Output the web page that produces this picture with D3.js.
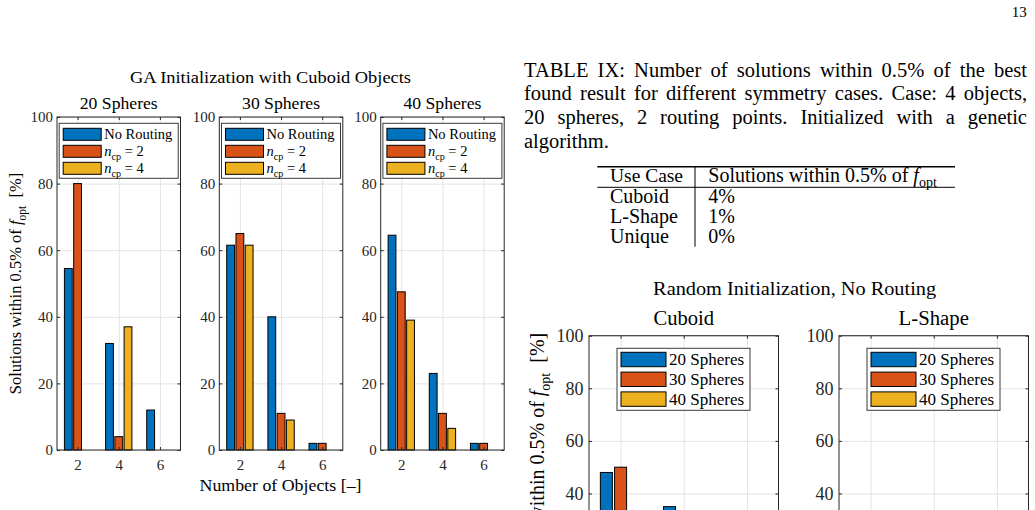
<!DOCTYPE html>
<html>
<head>
<meta charset="utf-8">
<script src="https://cdn.jsdelivr.net/npm/d3@7"></script>
<style>
  body { margin: 0; background: #fff; }
  text { white-space: pre; }
</style>
</head>
<body>
<script>
// ---- data ----
var objects = [2, 4, 6];
var gaTitles = ["20 Spheres", "30 Spheres", "40 Spheres"];
// per panel: No Routing, n_cp = 2, n_cp = 4
var ga20NoRouting = [54.5, 32, 12];
var ga20Ncp2      = [80, 4, 0];
var ga20Ncp4      = [0, 37, 0];
var ga30NoRouting = [61.5, 40, 2];
var ga30Ncp2      = [65, 11, 2];
var ga30Ncp4      = [61.5, 9, 0];
var ga40NoRouting = [64.5, 23, 2];
var ga40Ncp2      = [47.5, 11, 2];
var ga40Ncp4      = [39, 6.5, 0];

var randTitles = ["Cuboid", "L-Shape"];
var randLegend = ["20 Spheres", "30 Spheres", "40 Spheres"];
// null = bar lies below the visible part of the page
var randCuboid20 = [48, 35, null];
var randCuboid30 = [50, null, null];
var randCuboid40 = [null, null, null];
var randLShape20 = [null, null, null];
var randLShape30 = [null, null, null];
var randLShape40 = [null, null, null];

var yTicks = [0, 20, 40, 60, 80, 100];

var captionLines = [
  "TABLE IX: Number of solutions within 0.5% of the best",
  "found result for different symmetry cases. Case: 4 objects,",
  "20 spheres, 2 routing points. Initialized with a genetic",
  "algorithm."
];
var useCases = ["Cuboid", "L-Shape", "Unique"];
var useShares = ["4%", "1%", "0%"];

var colors = ["#0072BD", "#D95319", "#EDB120"];
var FONT = "'Liberation Serif', 'Times New Roman', serif";
var INK = "#262626";
var PAGE_H = 510;

var svg = d3.select("body").append("svg")
  .attr("width", 1035).attr("height", PAGE_H)
  .style("font-family", FONT);

svg.append("rect").attr("width", 1035).attr("height", PAGE_H).attr("fill", "#fff");

// text with italic symbol + subscript
function rich(sel, parts, size) {
  parts.forEach(function (p, i) {
    var t = sel.append("tspan").text(p.t);
    if (p.i) t.attr("font-style", "italic");
    if (p.sub) t.attr("font-size", size * 0.7).attr("dy", size * 0.28);
    else if (i > 0 && parts[i - 1].sub) t.attr("dy", -size * 0.28);
  });
}

function plain(x, y, str, size, anchor, len) {
  var t = svg.append("text")
    .attr("x", x).attr("y", y)
    .attr("font-size", size)
    .attr("fill", "#000")
    .attr("text-anchor", anchor || "start")
    .text(str);
  if (len) t.attr("textLength", len).attr("lengthAdjust", "spacingAndGlyphs");
  return t;
}

function panel(o) {
  var x = d3.scaleLinear().domain([1, 7]).range([o.left, o.left + o.width]);
  var y = d3.scaleLinear().domain([0, 100]).range([o.bottom, o.top]);
  var g = svg.append("g");

  // grid
  g.append("g").attr("transform", "translate(" + o.left + ",0)")
    .call(d3.axisLeft(y).tickValues(yTicks).tickSize(-o.width).tickFormat(""))
    .call(function (a) { a.select(".domain").remove(); a.selectAll("line").attr("stroke", "#e3e3e3"); });
  g.append("g").attr("transform", "translate(0," + o.bottom + ")")
    .call(d3.axisBottom(x).tickValues(objects).tickSize(-(o.bottom - o.top)).tickFormat(""))
    .call(function (a) { a.select(".domain").remove(); a.selectAll("line").attr("stroke", "#e3e3e3"); });

  // bars
  var offs = [-0.45, 0, 0.45], half = 0.19;
  o.series.forEach(function (vals, s) {
    g.selectAll(null).data(vals.map(function (v, j) { return { v: v, c: objects[j] }; })
        .filter(function (d) { return d.v != null && d.v > 0; }))
      .enter().append("rect")
      .attr("x", function (d) { return x(d.c + offs[s] - half); })
      .attr("width", function (d) { return x(d.c + offs[s] + half) - x(d.c + offs[s] - half); })
      .attr("y", function (d) { return y(d.v); })
      .attr("height", function (d) { return y(0) - y(d.v); })
      .attr("fill", colors[s])
      .attr("stroke", "#000").attr("stroke-width", 1);
  });

  // axes with inward ticks on all sides
  var tl = 3;
  var left = g.append("g").attr("transform", "translate(" + o.left + ",0)")
    .call(d3.axisLeft(y).tickValues(yTicks).tickFormat(d3.format("d"))
      .tickSizeInner(-tl).tickSizeOuter(0).tickPadding(o.ypad));
  var bottom = g.append("g").attr("transform", "translate(0," + o.bottom + ")")
    .call(d3.axisBottom(x).tickValues(objects).tickFormat(d3.format("d"))
      .tickSizeInner(-tl).tickSizeOuter(0).tickPadding(o.xpad));
  g.append("g").attr("transform", "translate(" + (o.left + o.width) + ",0)")
    .call(d3.axisRight(y).tickValues(yTicks).tickSizeInner(-tl).tickSizeOuter(0).tickFormat(""));
  g.append("g").attr("transform", "translate(0," + o.top + ")")
    .call(d3.axisTop(x).tickValues(objects).tickSizeInner(-tl).tickSizeOuter(0).tickFormat(""));
  g.selectAll(".domain").remove();
  g.selectAll(".tick line").filter(function () { return this.getAttribute("stroke") === "currentColor"; })
    .attr("stroke", INK);
  [left, bottom].forEach(function (a) {
    a.selectAll("text").attr("font-family", FONT).attr("font-size", o.tickSize).attr("fill", INK);
  });
  // labels that fall below the page are not printed
  left.selectAll(".tick").filter(function (d) { return y(d) > PAGE_H - 8; }).select("text").remove();
  if (o.bottom > PAGE_H) bottom.selectAll("text").remove();

  g.append("rect")
    .attr("x", o.left).attr("y", o.top)
    .attr("width", o.width).attr("height", o.bottom - o.top)
    .attr("fill", "none").attr("stroke", INK).attr("stroke-width", 1);

  // title
  plain(o.left + o.width / 2, o.titleY, o.title, o.titleSize, "middle", o.titleLen);

  // legend
  var L = o.legend;
  var lg = g.append("g");
  lg.append("rect").attr("x", L.x).attr("y", L.y).attr("width", L.w).attr("height", L.h)
    .attr("fill", "#fff").attr("stroke", "#3a3a3a").attr("stroke-width", 1);
  L.labels.forEach(function (lab, i) {
    var ry = L.y + L.pad + i * L.row;
    lg.append("rect").attr("x", L.x + 4).attr("y", ry).attr("width", L.sw).attr("height", L.sh)
      .attr("fill", colors[i]).attr("stroke", "#000").attr("stroke-width", 1);
    var t = lg.append("text").attr("x", L.x + 4 + L.sw + 3).attr("y", ry + L.sh / 2)
      .attr("dy", "0.35em").attr("font-size", L.size).attr("fill", "#000");
    if (typeof lab === "string") t.text(lab); else rich(t, lab, L.size);
  });
}

// ---- left figure: GA initialization ----
var gaSeries = [
  [ga20NoRouting, ga20Ncp2, ga20Ncp4],
  [ga30NoRouting, ga30Ncp2, ga30Ncp4],
  [ga40NoRouting, ga40Ncp2, ga40Ncp4]
];
var gaLabels = [
  "No Routing",
  [{ t: "n", i: true }, { t: "cp", sub: true }, { t: " = 2" }],
  [{ t: "n", i: true }, { t: "cp", sub: true }, { t: " = 4" }]
];
var gaLefts = [57, 219.3, 380.7];
gaLefts.forEach(function (lx, k) {
  panel({
    left: lx, width: 123.5, top: 117, bottom: 450,
    series: gaSeries[k], title: gaTitles[k], titleY: 109, titleSize: 17, titleLen: 78,
    tickSize: 15, ypad: 4, xpad: 9,
    legend: { x: lx + 2.2, y: 123.3, w: 119, h: 55, pad: 5, row: 17, sw: 38, sh: 12, size: 14.5, labels: gaLabels }
  });
});

plain(270.5, 82.7, "GA Initialization with Cuboid Objects", 17.5, "middle", 281);
plain(280.5, 491, "Number of Objects [\u2013]", 17, "middle", 162);

var yl1 = svg.append("text")
  .attr("transform", "translate(21,283.5) rotate(-90)")
  .attr("text-anchor", "middle").attr("font-size", 16.5).attr("fill", "#000");
rich(yl1, [{ t: "Solutions within 0.5% of " }, { t: "f", i: true }, { t: "opt", sub: true }, { t: "  [%]" }], 16.5);

// ---- caption + table ----
plain(1026.7, 16.7, "13", 15, "end");
var capY = [76.7, 100.4, 124.1, 147.8];
captionLines.forEach(function (line, i) {
  var t = svg.append("text").attr("x", 524).attr("y", capY[i])
    .attr("font-size", 20.5).attr("fill", "#000").text(line);
  if (i < 3) {
    // justify by stretching the word gaps
    var natural = t.node().getComputedTextLength();
    var gaps = line.split(" ").length - 1;
    t.attr("word-spacing", ((503 - natural) / gaps).toFixed(2));
  }
});

svg.append("line").attr("x1", 597.3).attr("x2", 955).attr("y1", 166.7).attr("y2", 166.7)
  .attr("stroke", "#000").attr("stroke-width", 1.6);
svg.append("line").attr("x1", 597.3).attr("x2", 955).attr("y1", 187.3).attr("y2", 187.3)
  .attr("stroke", "#000").attr("stroke-width", 1);
svg.append("line").attr("x1", 695).attr("x2", 695).attr("y1", 166.7).attr("y2", 246.7)
  .attr("stroke", "#000").attr("stroke-width", 1);
plain(610, 181.7, "Use Case", 19.5, "start", 73);
var th = svg.append("text").attr("x", 708.3).attr("y", 181.7).attr("font-size", 20).attr("fill", "#000");
rich(th, [{ t: "Solutions within 0.5% of " }, { t: "f", i: true }, { t: "opt", sub: true }], 20);
useCases.forEach(function (u, i) {
  plain(610, 202.7 + i * 20, u, 20, "start");
  plain(708.3, 202.7 + i * 20, useShares[i], 20, "start");
});

// ---- lower right figure: random initialization ----
var randSeries = [
  [randCuboid20, randCuboid30, randCuboid40],
  [randLShape20, randLShape30, randLShape40]
];
var randLefts = [589, 839];
var randLens = [60.7, 70.3];
randLefts.forEach(function (lx, k) {
  panel({
    left: lx, width: 189.5, top: 335.7, bottom: 598.7,
    series: randSeries[k], title: randTitles[k], titleY: 325, titleSize: 20, titleLen: randLens[k],
    tickSize: 18, ypad: 5.5, xpad: 10,
    legend: { x: lx + 28, y: 348.3, w: 133, h: 62, pad: 4, row: 19.8, sw: 45, sh: 14.4, size: 17, labels: randLegend }
  });
});

plain(794.6, 295, "Random Initialization, No Routing", 19.5, "middle", 283);

var yl2 = svg.append("text")
  .attr("transform", "translate(544,467) rotate(-90)")
  .attr("text-anchor", "middle").attr("font-size", 20).attr("fill", "#000");
rich(yl2, [{ t: "Solutions within 0.5% of " }, { t: "f", i: true }, { t: "opt", sub: true }, { t: "  [%]" }], 20);
</script>
</body>
</html>
